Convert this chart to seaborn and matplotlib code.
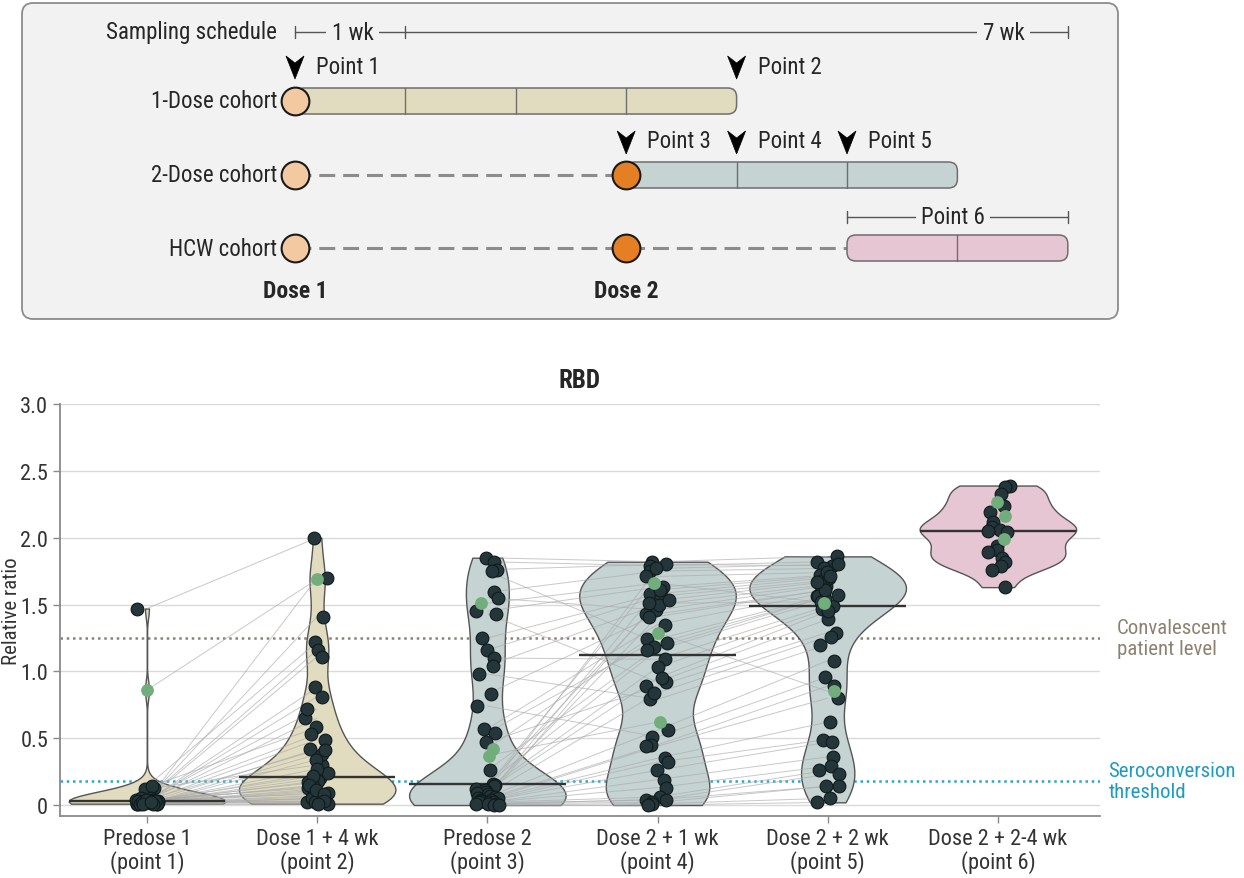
import numpy as np
import pandas as pd
import matplotlib
matplotlib.use("Agg")
import matplotlib.pyplot as plt
from matplotlib import font_manager
from matplotlib.patches import FancyBboxPatch, Polygon
from matplotlib.collections import LineCollection
import seaborn as sns

# ---------------- data ----------------
timepoints = [
    "Predose 1\n(point 1)",
    "Dose 1 + 4 wk\n(point 2)",
    "Predose 2\n(point 3)",
    "Dose 2 + 1 wk\n(point 4)",
    "Dose 2 + 2 wk\n(point 5)",
    "Dose 2 + 2-4 wk\n(point 6)",
]

# 1-dose cohort, one entry per participant (point 1 -> point 2)
one_dose_pt1 = [1.47, 0.86, 0.13, 0.12, 0.14, 0.03, 0.02, 0.04, 0.01, 0.03,
                0.02, 0.05, 0.02, 0.03, 0.01, 0.04, 0.02, 0.03, 0.02, 0.01,
                0.04, 0.03, 0.02, 0.05, 0.02, 0.01, 0.03, 0.02, 0.04, 0.03,
                0.02, 0.01, 0.03, 0.02, 0.04, 0.02, 0.03, 0.01, 0.02, 0.03,
                0.02, 0.04, 0.01, 0.02]
one_dose_pt2 = [2.00, 1.69, 0.58, 0.30, 1.22, 1.70, 0.42, 1.41, 0.05, 0.88,
                0.20, 1.16, 0.12, 0.65, 0.02, 1.11, 0.18, 0.81, 0.09, 0.38,
                0.72, 0.14, 0.03, 0.53, 0.24, 0.01, 0.49, 0.06, 0.41, 0.17,
                0.10, 0.34, 0.04, 0.27, 0.13, 0.07, 0.22, 0.05, 0.15, 0.02,
                0.11, 0.08, 0.03, 0.01]
one_dose_prior = [False, True] + [False] * 42

# 2-dose cohort, one entry per participant (point 3 -> point 4 -> point 5)
two_dose_pt3 = [1.85, 1.82, 1.76, 1.75, 1.59, 1.55, 1.51, 1.45, 1.43, 1.25,
                1.16, 1.10, 1.04, 0.98, 0.83, 0.74, 0.57, 0.54, 0.47, 0.42,
                0.37, 0.26, 0.16, 0.15, 0.14, 0.12, 0.11, 0.10, 0.09, 0.08,
                0.07, 0.06, 0.05, 0.05, 0.04, 0.04, 0.03, 0.03, 0.02, 0.02,
                0.02, 0.01, 0.01, 0.01, 0.00, 0.00]
two_dose_pt4 = [1.82, 1.79, 1.80, 1.21, 1.75, 1.46, 1.66, 1.63, 0.92, 1.58,
                1.56, 1.09, 1.50, 0.79, 1.43, 0.51, 1.35, 1.24, 0.89, 1.29,
                0.62, 1.18, 1.16, 1.51, 1.71, 1.03, 0.95, 1.77, 1.41, 0.84,
                1.61, 0.56, 1.53, 0.45, 0.44, 0.35, 0.32, 0.26, 0.19, 0.13,
                0.06, 0.04, 0.04, 0.02, 0.01, 0.00]
two_dose_pt5 = [1.86, 1.82, 1.79, 1.56, 1.77, 1.64, 1.51, 1.72, 1.39, 1.70,
                1.68, 1.49, 1.65, 1.20, 1.61, 0.96, 1.59, 1.57, 1.29, 0.85,
                np.nan, 1.56, 1.54, 1.52, 1.74, 1.47, 1.45, 1.80, 1.61, 1.26,
                1.71, 1.08, 1.67, 0.89, 0.80, 0.62, 0.49, 0.47, 0.36, 0.29,
                0.26, 0.23, 0.14, 0.14, 0.05, 0.02]
two_dose_prior = [False] * 46
for k in (6, 19, 20):
    two_dose_prior[k] = True

# health care worker cohort (point 6)
hcw_pt6 = [2.39, 2.38, 2.33, 2.27, 2.24, 2.19, 2.16, 2.12, 2.08, 2.06, 2.05,
           2.04, 1.99, 1.94, 1.91, 1.89, 1.85, 1.82, 1.79, 1.76, 1.63]
hcw_prior = [False] * 21
for k in (3, 6, 12):
    hcw_prior[k] = True

convalescent_level = 1.25
seroconversion_threshold = 0.18
y_ticks = [0, 0.5, 1.0, 1.5, 2.0, 2.5, 3.0]
y_tick_labels = ["0", "0.5", "1.0", "1.5", "2.0", "2.5", "3.0"]

# sampling schedule (weeks after dose 1)
cohort_names = ["1-Dose cohort", "2-Dose cohort", "HCW cohort"]
cohort_dose_weeks = [[0], [0, 3], [0, 3]]
cohort_bar_weeks = [(0, 4), (3, 6), (5, 7)]
cohort_bar_colors = ["#e1dcbf", "#c5d3d3", "#e7c6d4"]
point_marks = [("Point 1", 0, 0), ("Point 2", 4, 0),
               ("Point 3", 3, 1), ("Point 4", 4, 1), ("Point 5", 5, 1)]
point6_window = (5, 7)
dose_labels = [("Dose 1", 0), ("Dose 2", 3)]

# ---------------- style ----------------
sns.set_theme(style="white")
installed = {f.name for f in font_manager.fontManager.ttflist}
narrow = next((f for f in ["Liberation Sans Narrow", "DejaVu Sans Condensed",
                           "Roboto Condensed", "Open Sans Condensed"]
               if f in installed), "Liberation Sans")
plt.rcParams["font.family"] = [narrow, "DejaVu Sans"]
plt.rcParams["text.color"] = "#262626"

violin_colors = dict(zip(timepoints, ["#e1dcbf", "#e1dcbf", "#c5d3d3",
                                      "#c5d3d3", "#c5d3d3", "#e7c6d4"]))
dark_pt = "#24363a"
green_pt = "#72ad7c"
FS_TICK = 16
FS_SCHED = 16.5
FS_NOTE = 15

# ---------------- long-form table ----------------
rows = []
for v, p in zip(one_dose_pt1, one_dose_prior):
    rows.append((timepoints[0], v, p))
for v, p in zip(one_dose_pt2, one_dose_prior):
    rows.append((timepoints[1], v, p))
for v, p in zip(two_dose_pt3, two_dose_prior):
    rows.append((timepoints[2], v, p))
for v, p in zip(two_dose_pt4, two_dose_prior):
    rows.append((timepoints[3], v, p))
for v, p in zip(two_dose_pt5, two_dose_prior):
    rows.append((timepoints[4], v, p))
for v, p in zip(hcw_pt6, hcw_prior):
    rows.append((timepoints[5], v, p))
df = pd.DataFrame(rows, columns=["timepoint", "ratio", "prior"]).dropna()

W, H = 1244, 879
fig = plt.figure(figsize=(W / 100, H / 100), dpi=100)
fig.patch.set_facecolor("white")

# ---------------- RBD panel ----------------
ax = fig.add_axes([60 / W, (H - 816.7) / H, (1100 - 60) / W, (816.7 - 405) / H])

ax.axhline(convalescent_level, color="#8d8272", ls=(0, (1, 1.5)), lw=1.8, zorder=0.5)
ax.axhline(seroconversion_threshold, color="#2aa6c6", ls=(0, (1, 1.5)), lw=1.8, zorder=0.5)

sns.violinplot(data=df, x="timepoint", y="ratio", hue="timepoint",
               order=timepoints, hue_order=timepoints, palette=violin_colors,
               cut=0, inner=None, density_norm="width", width=0.92,
               bw_adjust=0.6, linewidth=1.0, linecolor="#555555",
               saturation=1, legend=False, ax=ax)

# participant trajectories between consecutive visits
segs = []
for a, b in zip(one_dose_pt1, one_dose_pt2):
    segs.append([(0, a), (1, b)])
for a, b, c in zip(two_dose_pt3, two_dose_pt4, two_dose_pt5):
    segs.append([(2, a), (3, b)])
    if not np.isnan(c):
        segs.append([(3, b), (4, c)])
ax.add_collection(LineCollection(segs, colors="#ababab", linewidths=0.7,
                                 alpha=0.65, zorder=1.5))

# medians
for i, tp in enumerate(timepoints):
    med = np.median(df.loc[df.timepoint == tp, "ratio"])
    ax.hlines(med, i - 0.46, i + 0.46, color="#333333", lw=1.7, zorder=3)

np.random.seed(7)
sns.stripplot(data=df[~df.prior], x="timepoint", y="ratio", order=timepoints,
              color=dark_pt, edgecolor="#0f1a1c", linewidth=0.8, size=9.2,
              jitter=0.07, zorder=4, ax=ax)
sns.stripplot(data=df[df.prior], x="timepoint", y="ratio", order=timepoints,
              color=green_pt, linewidth=0, size=9.2, jitter=0.05,
              zorder=5, ax=ax)

ax.set_xlim(-0.511, 5.60)
ax.set_ylim(-0.08, 3.0)
ax.set_yticks(y_ticks)
ax.set_yticklabels(y_tick_labels)
ax.set_xticks(range(len(timepoints)))
ax.set_xticklabels(timepoints, linespacing=1.05)
ax.yaxis.grid(True, color="#dadada", lw=1)
ax.set_axisbelow(True)
sns.despine(ax=ax)
for s in ("left", "bottom"):
    ax.spines[s].set_color("#8a8a8a")
    ax.spines[s].set_linewidth(1.3)
ax.tick_params(axis="both", length=5, width=1, color="#8a8a8a",
               labelsize=FS_TICK, labelcolor="#333333", left=True, bottom=True)
ax.tick_params(axis="x", pad=4)
ax.set_xlabel("")
ax.set_ylabel("Relative ratio", fontsize=15, color="#333333")
ax.yaxis.set_label_coords(-0.0375, 0.5)
ax.set_title("RBD", fontsize=18, fontweight="bold", pad=12)

ax.text(1.016, convalescent_level, "Convalescent\npatient level",
        transform=ax.get_yaxis_transform(), ha="left", va="center",
        fontsize=FS_NOTE, color="#8d8272", linespacing=1.15, clip_on=False)
ax.text(1.008, seroconversion_threshold, "Seroconversion\nthreshold",
        transform=ax.get_yaxis_transform(), ha="left", va="center",
        fontsize=FS_NOTE, color="#1e9cc0", linespacing=1.15, clip_on=False)

# ---------------- sampling schedule panel ----------------
box_l, box_r, box_t, box_b = 22, 1118, 4, 320
wk_px = 110.4
wk0_px = 295
axs = fig.add_axes([box_l / W, (H - box_b) / H, (box_r - box_l) / W, (box_b - box_t) / H])
axs.set_xlim((box_l - wk0_px) / wk_px, (box_r - wk0_px) / wk_px)
axs.set_ylim(box_b - box_t, 0)
axs.axis("off")

aspect = (box_r - box_l) / (box_b - box_t)
axs.add_patch(FancyBboxPatch((0, 0), 1, 1, transform=axs.transAxes,
                             boxstyle="round,pad=0,rounding_size=0.01",
                             mutation_aspect=aspect, facecolor="#f2f2f2",
                             edgecolor="#8c8c8c", lw=1.3, clip_on=False, zorder=0))

panel_bg = "#f2f2f2"
y_sched, y_rows, y_arrows, y_p6, y_dose = 29, [98, 172, 245], [64, 139], 214, 288
line_c = "#555555"

# scale bar
axs.plot([0, 7], [y_sched, y_sched], color=line_c, lw=1, zorder=1)
for wk in (0, 1, 7):
    axs.plot([wk, wk], [y_sched - 6, y_sched + 6], color=line_c, lw=1, zorder=1)
axs.text(-0.16, y_sched, "Sampling schedule", ha="right", va="center", fontsize=FS_SCHED)
for lab, wk in (("1 wk", 0.52), ("7 wk", 6.42)):
    axs.text(wk, y_sched, lab, ha="center", va="center", fontsize=FS_SCHED, zorder=2,
             bbox=dict(facecolor=panel_bg, edgecolor="none", pad=4))

# cohort rows
for name, doses, (b0, b1), col, y in zip(cohort_names, cohort_dose_weeks,
                                         cohort_bar_weeks, cohort_bar_colors, y_rows):
    axs.text(-0.16, y, name, ha="right", va="center", fontsize=FS_SCHED)
    axs.add_patch(FancyBboxPatch((b0, y - 13), b1 - b0, 26,
                                 boxstyle="round,pad=0,rounding_size=0.08",
                                 mutation_aspect=wk_px, facecolor=col,
                                 edgecolor="#6e6e6e", lw=1.1, zorder=2))
    for wk in range(b0 + 1, b1):
        axs.plot([wk, wk], [y - 13, y + 13], color="#6e6e6e", lw=1, zorder=3)
    if b0 > 0:
        axs.plot([0, b0], [y, y], color="#8c8c8c", lw=2.2,
                 ls=(0, (5.2, 2.6)), zorder=1.5)
    for j, wk in enumerate(doses):
        axs.scatter([wk], [y], s=400, facecolor="#f3c9a1" if j == 0 else "#e57f23",
                    edgecolor="#1a1a1a", linewidth=1.5, zorder=4)

# sampling arrows
for lab, wk, r in point_marks:
    y = y_arrows[r]
    hw = 9 / wk_px
    axs.add_patch(Polygon([(wk - hw, y - 11), (wk, y - 4), (wk + hw, y - 11), (wk, y + 12)],
                          closed=True, facecolor="black", edgecolor="black", lw=0.5, zorder=5))
    axs.text(wk + 0.19, y - 1, lab, ha="left", va="center", fontsize=FS_SCHED)

# point 6 window
p0, p1 = point6_window
axs.plot([p0, p1], [y_p6, y_p6], color=line_c, lw=1)
for wk in (p0, p1):
    axs.plot([wk, wk], [y_p6 - 6, y_p6 + 6], color=line_c, lw=1)
axs.text((p0 + p1) / 2 - 0.04, y_p6, "Point 6", ha="center", va="center", fontsize=FS_SCHED,
         bbox=dict(facecolor=panel_bg, edgecolor="none", pad=4))

for lab, wk in dose_labels:
    axs.text(wk, y_dose, lab, ha="center", va="center", fontsize=FS_SCHED + 0.5,
             fontweight="bold")

fig.savefig("out.png", dpi=100)
